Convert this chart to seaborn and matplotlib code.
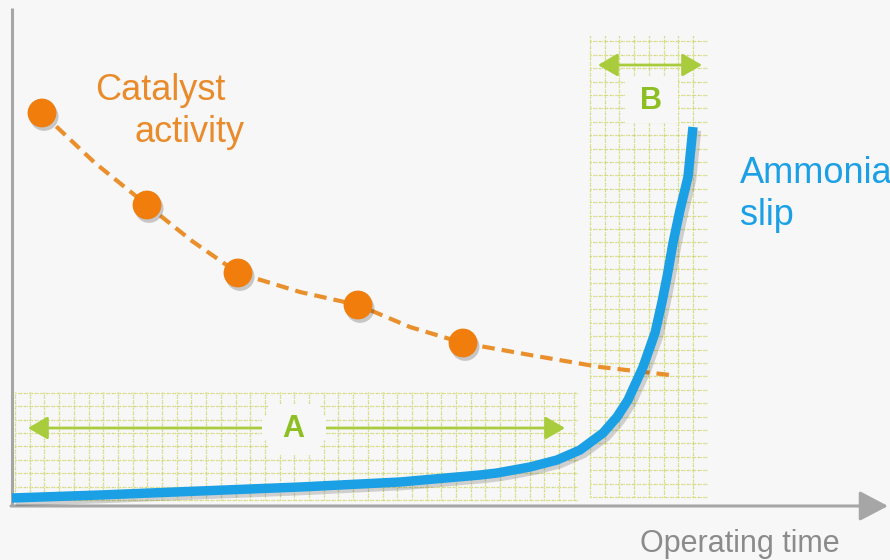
import matplotlib
matplotlib.use("Agg")
import numpy as np
import pandas as pd
import seaborn as sns
import matplotlib.pyplot as plt
from matplotlib import patheffects as pe
from matplotlib.patches import Rectangle

# Catalyst activity samples (operating time, activity level)
activity_time = [42, 147, 238, 358, 463]
activity_level = [447, 355, 287, 255, 217]

# Dashed catalyst-activity trend
trend_time = [42, 95, 147, 192, 238, 300, 358, 410, 463, 530, 600, 670]
trend_level = [447, 397, 355, 319, 287, 268, 255, 233, 217, 205, 193, 185]

# Ammonia slip curve
slip_time = [12, 100, 200, 300, 400, 480, 497, 530, 557, 580, 603, 617,
             628, 643, 655, 662, 667, 673, 680, 688, 693]
slip_level = [62, 65, 69, 73, 78, 85, 87, 93, 100, 110, 127, 143,
              160, 193, 227, 258, 283, 317, 350, 383, 433]

# Text labels
activity_label = ["Catalyst", "activity"]
slip_label = ["Ammonia", "slip"]
time_label = "Operating time"
zone_labels = ["A", "B"]

BG = "#f7f7f8"
ORANGE_DOT = "#f07d0c"
ORANGE_LINE = "#e98f2c"
ORANGE_TEXT = "#e98b2b"
BLUE = "#1ba0e6"
GREEN = "#8dbf22"
GREEN_LINE = "#a9cc3c"
GRID_YELLOW = "#d6df5c"
GRID_GREY = "#a7aa90"
AXIS = "#a6a6a6"

sns.set_theme(style="white")
plt.rcParams["font.family"] = ["Liberation Sans", "DejaVu Sans"]

fig = plt.figure(figsize=(8.9, 5.6), dpi=100, facecolor=BG)
ax = fig.add_axes([0, 0, 1, 1])
ax.set_facecolor(BG)
ax.set_xlim(0, 890)
ax.set_ylim(0, 560)
ax.set_axis_off()


def dotted_grid(x0, x1, y0, y1, dx=14.7, dy=13.4):
    xs = np.arange(x0, x1 + 0.1, dx)
    ys = np.arange(y0, y1 + 0.1, dy)
    yellow = dict(colors=GRID_YELLOW, linestyles=(0, (1.0, 1.2)),
                  linewidth=0.9, zorder=1)
    grey = dict(colors=GRID_GREY, linestyles=(1.1, (0.7, 3.7)),
                linewidth=0.9, alpha=0.55, zorder=1.1)
    for style in (yellow, grey):
        ax.vlines(xs, y0, y1, **style)
        ax.hlines(ys, x0, x1, **style)


# hatched zones A and B
dotted_grid(15, 578, 60, 168)
dotted_grid(590, 707, 63, 525)

# cleared boxes behind the zone letters
ax.add_patch(Rectangle((268, 106), 52, 50, facecolor=BG, edgecolor="none", zorder=2))
ax.add_patch(Rectangle((626, 437), 52, 47, facecolor=BG, edgecolor="none", zorder=2))

# span arrows
span_style = dict(arrowstyle="<|-|>,head_length=0.6,head_width=0.35",
                  color=GREEN_LINE, lw=2.0, shrinkA=0, shrinkB=0,
                  mutation_scale=20)
ax.annotate("", xy=(28, 132), xytext=(565, 132), arrowprops=span_style, zorder=2)
ax.annotate("", xy=(598, 495), xytext=(702, 495), arrowprops=span_style, zorder=2)
ax.add_patch(Rectangle((262, 120), 64, 24, facecolor=BG, edgecolor="none", zorder=2.5))

ax.text(293, 131, zone_labels[0], color=GREEN, fontsize=22, fontweight="bold",
        ha="center", va="center", zorder=3)
ax.text(651, 459, zone_labels[1], color=GREEN, fontsize=22, fontweight="bold",
        ha="center", va="center", zorder=3)

# axes
ax.plot([12, 12], [54, 552], color=AXIS, lw=2.2, solid_capstyle="butt", zorder=4)
ax.annotate("", xy=(888, 54), xytext=(11, 54),
            arrowprops=dict(arrowstyle="-|>,head_length=0.8,head_width=0.42",
                            color=AXIS, lw=2.2, shrinkA=0, shrinkB=0,
                            mutation_scale=22),
            zorder=4)

# catalyst activity trend and samples
trend = pd.DataFrame({"time": trend_time, "level": trend_level})
sns.lineplot(data=trend, x="time", y="level", ax=ax, color=ORANGE_LINE,
             linewidth=3.0, linestyle=(0, (3.0, 1.7)), sort=False,
             estimator=None, zorder=5)

samples = pd.DataFrame({"time": activity_time, "level": activity_level})
sns.scatterplot(data=samples, x="time", y="level", ax=ax, s=430,
                color=ORANGE_DOT, edgecolor="none", zorder=6,
                path_effects=[pe.SimplePatchShadow(offset=(1.5, -2.5),
                                                   shadow_rgbFace="k",
                                                   alpha=0.22),
                              pe.Normal()])

# ammonia slip
slip = pd.DataFrame({"time": slip_time, "level": slip_level})
sns.lineplot(data=slip, x="time", y="level", ax=ax, color=BLUE, linewidth=6.8,
             sort=False, estimator=None, zorder=7, solid_capstyle="butt",
             solid_joinstyle="round",
             path_effects=[pe.SimpleLineShadow(offset=(2.5, -2.5),
                                               shadow_color="k", alpha=0.18),
                           pe.Normal()])

ax.set_xlim(0, 890)
ax.set_ylim(0, 560)
ax.set_axis_off()

# labels
ax.text(95, 460, activity_label[0], color=ORANGE_TEXT, fontsize=26,
        ha="left", va="baseline", zorder=8)
ax.text(135, 418, activity_label[1], color=ORANGE_TEXT, fontsize=26,
        ha="left", va="baseline", zorder=8)
ax.text(740, 377, slip_label[0], color=BLUE, fontsize=26,
        ha="left", va="baseline", zorder=8)
ax.text(740, 335, slip_label[1], color=BLUE, fontsize=26,
        ha="left", va="baseline", zorder=8)
ax.text(740, 8, time_label, color="#8b8b8b", fontsize=22,
        ha="center", va="baseline", zorder=8)

fig.savefig("out.png", dpi=100, facecolor=BG)
